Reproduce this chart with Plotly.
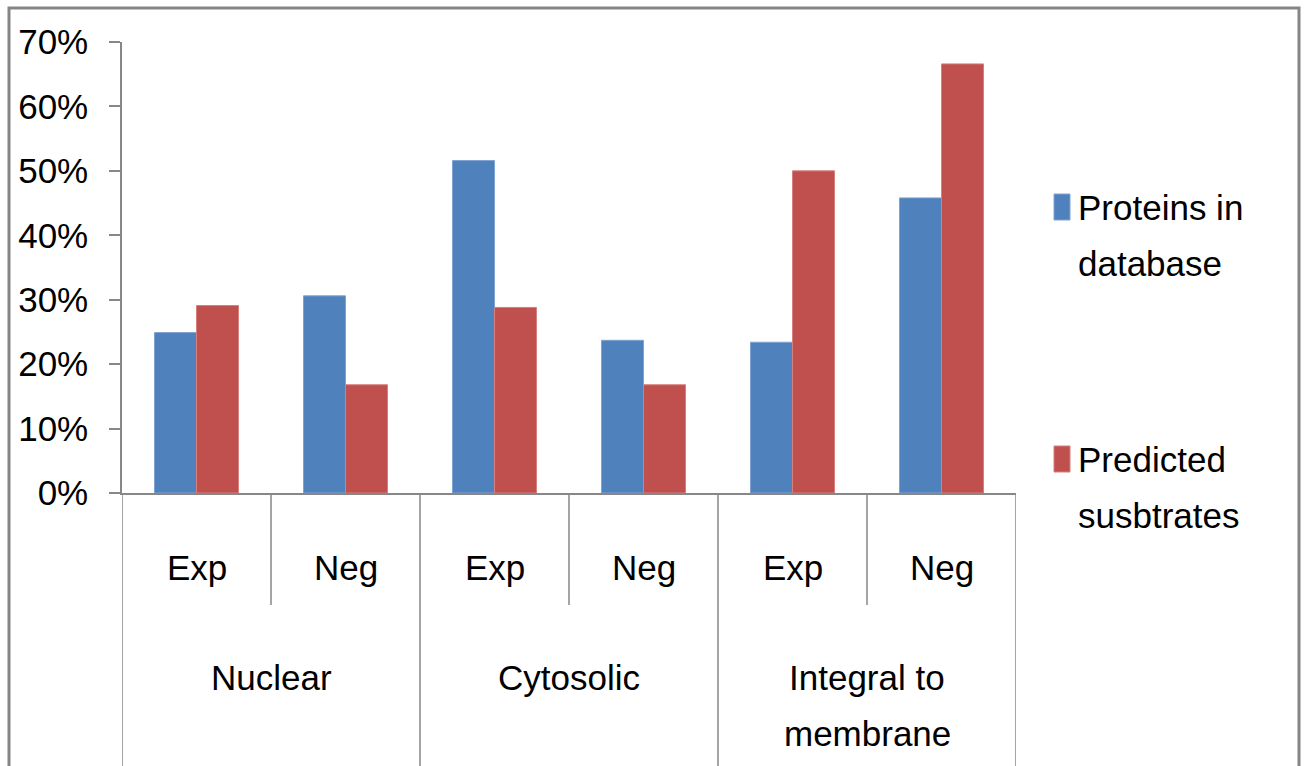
import plotly.graph_objects as go

# Data
groups = ["Nuclear", "Cytosolic", "Integral to<br>membrane"]
subgroups = ["Exp", "Neg"]
series_names = ["Proteins in<br>database", "Predicted<br>susbtrates"]
proteins_in_db = [24.9, 30.6, 51.6, 23.7, 23.4, 45.8]
predicted_substrates = [29.1, 16.8, 28.8, 16.8, 50.0, 66.6]
y_ticks = [0, 10, 20, 30, 40, 50, 60, 70]
y_tick_labels = [f"{v}%" for v in y_ticks]

colors = ["#4F81BD", "#C0504D"]
edge_colors = ["#7FA3D3", "#D67F7D"]
axis_color = "#878787"
FONT = "Liberation Sans, Arial, sans-serif"
FS = 35
LINE_STEP = 56  # pixel distance between stacked text lines

# Figure geometry (pixels)
W, H = 1305, 766
L, R, T, B = 122, 1016, 42, 493

n_cat = len(groups) * len(subgroups)
xpos = list(range(n_cat))
sub_labels = [s for _ in groups for s in subgroups]

fig = go.Figure()
for name, vals, c, ec in zip(series_names, [proteins_in_db, predicted_substrates], colors, edge_colors):
    fig.add_trace(go.Bar(
        x=xpos, y=vals, name=name,
        marker=dict(color=c, line=dict(color=ec, width=1)),
        showlegend=False,
    ))


def px_y(y):
    """pixel row -> paper y"""
    return (B - y) / (B - T)


def px_x(x):
    """pixel column -> paper x"""
    return (x - L) / (R - L)


shapes = []
annotations = []


def add_text(x, y_px, text, xref, xanchor):
    annotations.append(dict(
        x=x, y=px_y(y_px), xref=xref, yref="paper",
        text=text, showarrow=False, xanchor=xanchor, yanchor="middle",
        font=dict(family=FONT, size=FS, color="black"),
    ))


# Category dividers below the axis
for k in range(n_cat + 1):
    xb = k - 0.5
    is_group_edge = (k % len(subgroups) == 0)
    shapes.append(dict(
        type="line", xref="x", yref="paper",
        x0=xb, x1=xb, y0=0, y1=px_y(H + 5) if is_group_edge else px_y(605),
        line=dict(color=axis_color, width=1.5),
    ))

# Sub-category labels
for i, s in enumerate(sub_labels):
    add_text(xpos[i], 567, s, "x", "center")

# Group labels, first line aligned across groups
for g_i, g in enumerate(groups):
    xc = g_i * len(subgroups) + (len(subgroups) - 1) / 2
    for j, line in enumerate(g.split("<br>")):
        add_text(xc, 677 + j * LINE_STEP, line, "x", "center")

# Legend
legend_rows = [207, 459]
for name, c, ec, row in zip(series_names, colors, edge_colors, legend_rows):
    shapes.append(dict(
        type="rect", xref="paper", yref="paper",
        x0=px_x(1054), x1=px_x(1070), y0=px_y(row - 13), y1=px_y(row + 13),
        fillcolor=c, line=dict(color=ec, width=1),
    ))
    for j, line in enumerate(name.split("<br>")):
        add_text(px_x(1076), row + j * LINE_STEP, line, "paper", "left")

# Outer frame
shapes.append(dict(
    type="rect", xref="paper", yref="paper",
    x0=px_x(9), x1=px_x(1299), y0=px_y(8), y1=px_y(H + 10),
    line=dict(color="#858585", width=3), fillcolor="rgba(0,0,0,0)",
))

fig.update_layout(
    width=W, height=H,
    margin=dict(l=L, r=W - R, t=T, b=H - B, pad=0),
    paper_bgcolor="white", plot_bgcolor="white",
    barmode="group", bargap=0.436, bargroupgap=0,
    font=dict(family=FONT, size=FS, color="black"),
    shapes=shapes, annotations=annotations,
    xaxis=dict(
        range=[-0.5, n_cat - 0.5], showticklabels=False, ticks="",
        showgrid=False, zeroline=False,
        showline=True, linecolor=axis_color, linewidth=1.5,
    ),
    yaxis=dict(
        range=[0, 70], tickmode="array", tickvals=y_ticks, ticktext=y_tick_labels,
        ticks="outside", ticklen=11, tickcolor=axis_color, tickwidth=1.5,
        ticklabelstandoff=14,
        showgrid=False, zeroline=False,
        showline=True, linecolor=axis_color, linewidth=1.5,
        tickfont=dict(family=FONT, size=FS, color="black"),
    ),
)

fig.write_html("out.html")
